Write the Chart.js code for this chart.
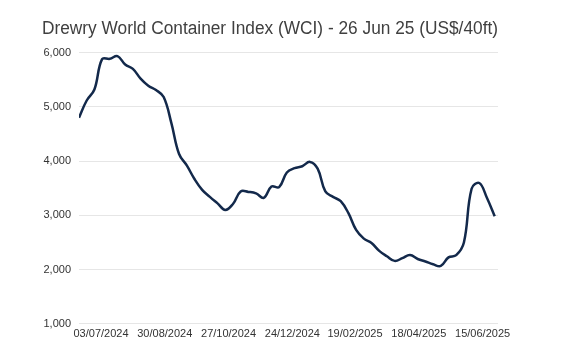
<!DOCTYPE html>
<html><head><meta charset="utf-8">
<script src="https://cdn.jsdelivr.net/npm/chart.js@4"></script>
<style>html,body{margin:0;padding:0;background:#fff}#wrap{width:573px;height:353px}</style>
</head><body><div id="wrap"><canvas id="c" width="573" height="353"></canvas></div>
<script>
const titleText = 'Drewry World Container Index (WCI) - 26 Jun 25 (US$/40ft)';
const weekDates = [
 '2024-06-13','2024-06-20','2024-06-27','2024-07-04','2024-07-11','2024-07-18','2024-07-25',
 '2024-08-01','2024-08-08','2024-08-15','2024-08-22','2024-08-29','2024-09-05','2024-09-12',
 '2024-09-19','2024-09-26','2024-10-03','2024-10-10','2024-10-17','2024-10-24','2024-10-31',
 '2024-11-07','2024-11-14','2024-11-21','2024-11-28','2024-12-05','2024-12-12','2024-12-19',
 '2024-12-26','2025-01-02','2025-01-09','2025-01-16','2025-01-23','2025-01-30','2025-02-06',
 '2025-02-13','2025-02-20','2025-02-27','2025-03-06','2025-03-13','2025-03-20','2025-03-27',
 '2025-04-03','2025-04-10','2025-04-17','2025-04-24','2025-05-01','2025-05-08','2025-05-15',
 '2025-05-22','2025-05-29','2025-06-05','2025-06-12','2025-06-19','2025-06-26'
];
const wciValues = [
 4801, 5117, 5319, 5880, 5885, 5935, 5780,
 5700, 5520, 5390, 5310, 5180, 4700, 4130,
 3920, 3670, 3470, 3340, 3220, 3100, 3210,
 3440, 3432, 3405, 3320, 3530, 3520, 3790,
 3870, 3905, 3985, 3860, 3440, 3340, 3260,
 3040, 2730, 2570, 2490, 2345, 2245, 2160,
 2210, 2268, 2195, 2148, 2097, 2066, 2225,
 2265, 2500, 3490, 3595, 3320, 2983
];
const xTickLabels = ['03/07/2024','30/08/2024','27/10/2024','24/12/2024','19/02/2025','18/04/2025','15/06/2025'];
const yTickValues = [1000, 2000, 3000, 4000, 5000, 6000];

const DAY = 86400000;
const t0 = Date.parse(weekDates[0] + 'T00:00:00Z');
const dayOf = s => (Date.parse(s + 'T00:00:00Z') - t0) / DAY;
const dmyDay = s => { const [d, m, y] = s.split('/'); return dayOf(`${y}-${m}-${d}`); };
const points = weekDates.map((d, i) => ({ x: dayOf(d), y: wciValues[i] }));
const tickPos = xTickLabels.map(dmyDay);
const FONT = 'Arial, "Liberation Sans", sans-serif';

new Chart(document.getElementById('c'), {
  type: 'line',
  data: { datasets: [{ data: points, borderColor: '#13294b', borderWidth: 2.5, tension: 0.4, pointRadius: 0, fill: false }] },
  options: {
    responsive: false, devicePixelRatio: 1, animation: false,
    layout: { padding: { left: 42, right: 75, top: 10, bottom: 8 } },
    plugins: {
      legend: { display: false }, tooltip: { enabled: false },
      title: { display: true, text: titleText, align: 'start', color: '#404040',
        font: { family: FONT, size: 18, weight: 'normal' }, padding: { top: 8, bottom: 13 } }
    },
    scales: {
      x: { type: 'linear', min: 0, max: dayOf(weekDates[weekDates.length - 1]) + 3,
        grid: { display: false, drawTicks: false }, border: { display: false },
        afterBuildTicks: s => { s.ticks = tickPos.map(v => ({ value: v })); },
        ticks: { autoSkip: false, maxRotation: 0, padding: 4, color: '#333', font: { family: FONT, size: 11 },
          callback: v => { const i = tickPos.indexOf(v); return i >= 0 ? xTickLabels[i] : ''; } } },
      y: { min: 1000, max: 6000,
        afterBuildTicks: s => { s.ticks = yTickValues.map(v => ({ value: v })); },
        afterFit: s => { s.width = 37; },
        grid: { color: '#e6e6e6', drawTicks: false }, border: { display: false },
        ticks: { padding: 8, color: '#333', font: { family: FONT, size: 11 },
          callback: v => v.toLocaleString('en-US') } }
    }
  }
});
</script></body></html>
